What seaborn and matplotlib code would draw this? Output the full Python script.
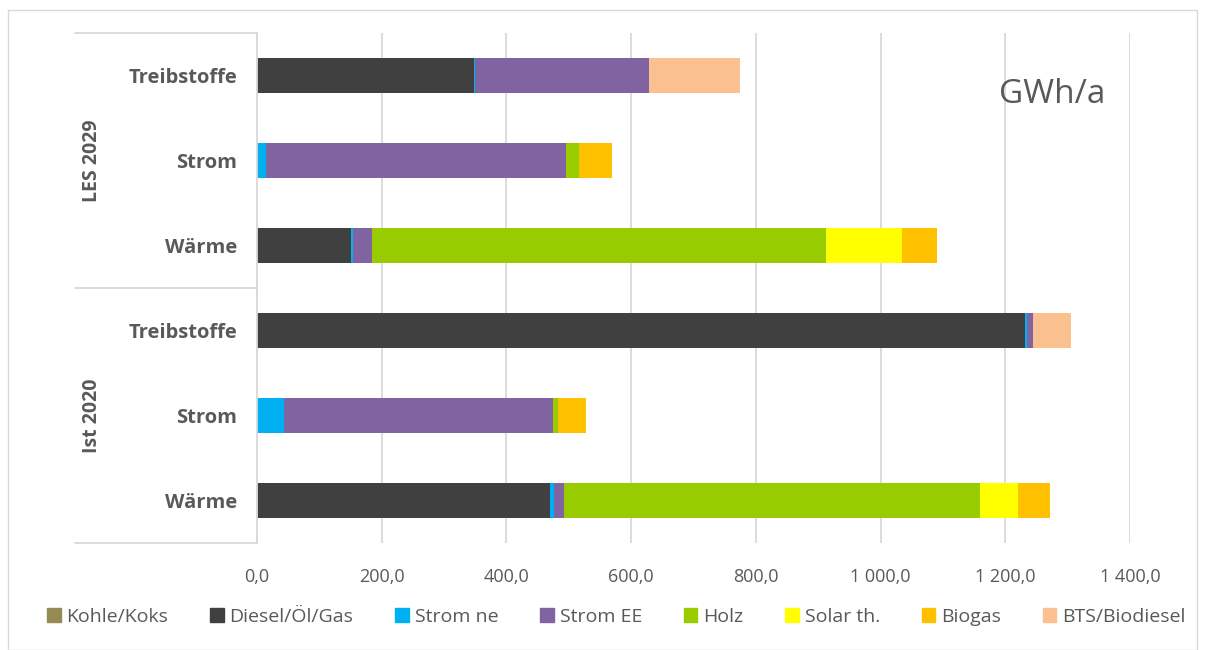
import matplotlib
matplotlib.use("Agg")
import matplotlib.pyplot as plt
import matplotlib.patches as mpatches
from matplotlib.ticker import FuncFormatter
import pandas as pd
import seaborn as sns

# Daten (GWh/a), von oben nach unten
groups = ["LES 2029", "LES 2029", "LES 2029", "Ist 2020", "Ist 2020", "Ist 2020"]
sectors = ["Treibstoffe", "Strom", "Wärme", "Treibstoffe", "Strom", "Wärme"]

series = ["Kohle/Koks", "Diesel/Öl/Gas", "Strom ne", "Strom EE", "Holz",
          "Solar th.", "Biogas", "BTS/Biodiesel"]
colors = ["#948A54", "#404040", "#00B0F0", "#8064A2", "#99CC00",
          "#FFFF00", "#FFC000", "#FAC090"]

kohle = [0, 0, 0, 0, 0, 1.5]
diesel = [348, 0, 151, 1231, 0, 468]
strom_ne = [2, 15, 3, 3.5, 43, 7]
strom_ee = [278, 481, 30, 10, 431, 16]
holz = [0, 20, 729, 0, 8, 667]
solar = [0, 0, 121, 0, 0, 61]
biogas = [0, 53, 57, 0, 45, 51]
bts = [147, 0, 0, 61, 0, 0]

values = [kohle, diesel, strom_ne, strom_ee, holz, solar, biogas, bts]

rows = [f"{g}|{s}" for g, s in zip(groups, sectors)]
df = pd.DataFrame({name: v for name, v in zip(series, values)}, index=rows)
cum = df.cumsum(axis=1)

sns.set_theme(style="white")
plt.rcParams["font.family"] = ["Open Sans", "DejaVu Sans"]
grey = "#595959"

fig = plt.figure(figsize=(12.06, 6.5), dpi=100)
ax = fig.add_axes([257 / 1206, 1 - 543 / 650, 873 / 1206, 510 / 650])

# gestapelt: Summen von hinten nach vorne zeichnen
for name, c in reversed(list(zip(series, colors))):
    d = pd.DataFrame({"row": rows, "end": cum[name].values})
    sns.barplot(data=d, x="end", y="row", order=rows, orient="h", color=c,
                width=0.41, linewidth=0, saturation=1, ax=ax)

ax.set_xlim(0, 1400)
ax.set_ylim(5.5, -0.5)
ax.set_xlabel("")
ax.set_ylabel("")
ax.set_xticks(range(0, 1401, 200))
ax.xaxis.set_major_formatter(FuncFormatter(
    lambda v, p: f"{v:,.1f}".replace(",", " ").replace(".", ",")))
ax.grid(axis="x", color="#D9D9D9", linewidth=1.3)
ax.set_axisbelow(True)
for s in ["top", "right", "bottom"]:
    ax.spines[s].set_visible(False)
ax.spines["left"].set_color("#D9D9D9")
ax.spines["left"].set_linewidth(1.3)

ax.set_yticks(range(len(rows)))
ax.set_yticklabels(sectors, fontweight="bold", fontsize=14.5, color=grey)
ax.tick_params(axis="y", length=0, pad=14)
ax.tick_params(axis="x", length=0, pad=18, labelsize=13, labelcolor=grey)

# Gruppenlinien und -beschriftungen links
x0 = -182 / 873
for yv in [0, 0.5, 1]:
    ax.plot([x0, 0], [yv, yv], transform=ax.transAxes, color="#D9D9D9",
            linewidth=1.3, clip_on=False)
for yc, g in [(0.75, "LES 2029"), (0.25, "Ist 2020")]:
    ax.text(x0 + 17 / 873, yc, g, transform=ax.transAxes, rotation=90,
            ha="center", va="center", fontsize=14, fontweight="bold", color=grey)

ax.text(1275, 0.22, "GWh/a", fontsize=24, color=grey, ha="center", va="center")

handles = [mpatches.Patch(color=c, label=n) for n, c in zip(series, colors)]
fig.legend(handles=handles, loc="center", bbox_to_anchor=(0.511, 1 - 617 / 650),
           ncol=8, frameon=False, fontsize=14, handlelength=0.7,
           handleheight=0.7, handletextpad=0.3, columnspacing=2.15,
           labelcolor=grey)

fig.patches.append(mpatches.Rectangle((8 / 1206, 0), 1189 / 1206, 1 - 10 / 650,
                                      transform=fig.transFigure, fill=False,
                                      edgecolor="#D9D9D9", linewidth=1))

fig.savefig("out.png", dpi=100)
